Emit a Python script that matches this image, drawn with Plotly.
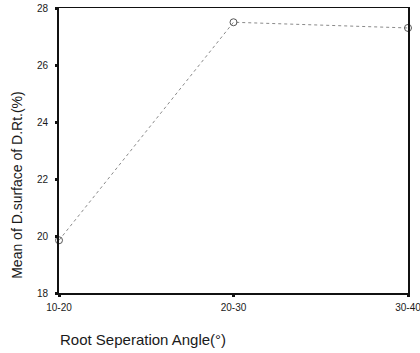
import plotly.graph_objects as go

categories = ["10-20", "20-30", "30-40"]
values = [19.85, 27.5, 27.3]
y_ticks = [18, 20, 22, 24, 26, 28]

fig = go.Figure()
fig.add_trace(go.Scatter(
    x=categories, y=values, mode="lines+markers",
    line=dict(color="#8a8a8a", width=1, dash="dot"),
    marker=dict(symbol="circle-open", size=7, color="#555555", line=dict(width=1)),
    showlegend=False, cliponaxis=False, hoverinfo="skip",
))

fig.update_layout(
    width=420, height=353, autosize=False,
    margin=dict(l=59, r=12, t=8, b=60, pad=0, autoexpand=False),
    paper_bgcolor="white", plot_bgcolor="white",
    font=dict(family="Liberation Sans, Arial, sans-serif", color="#1a1a1a"),
    xaxis=dict(
        type="category", range=[0, 2], showgrid=False, zeroline=False,
        showline=True, linecolor="#111", linewidth=1.5, mirror=True,
        ticks="outside", ticklen=2, tickwidth=3, tickcolor="#111",
        ticklabelstandoff=2,
        tickfont=dict(size=10), fixedrange=True, automargin=False,
    ),
    yaxis=dict(
        range=[18, 28], tickvals=y_ticks, showgrid=False, zeroline=False,
        showline=True, linecolor="#111", linewidth=1.8, mirror=True,
        ticks="outside", ticklen=2, tickwidth=3, tickcolor="#111",
        ticklabelstandoff=5,
        tickfont=dict(size=10), fixedrange=True, automargin=False,
    ),
    annotations=[
        dict(text="Mean of D.surface of D.Rt.(%)", xref="paper", yref="paper",
             x=-0.12, y=0.38, showarrow=False, textangle=-90,
             xanchor="center", yanchor="middle", font=dict(size=14)),
        dict(text="Root Seperation Angle(°)", xref="paper", yref="paper",
             x=0.242, y=-0.163, showarrow=False,
             xanchor="center", yanchor="middle", font=dict(size=15)),
    ],
)

fig.write_html(
    "out.html",
    config={"displayModeBar": False, "staticPlot": True},
    post_script="document.body.style.margin='0';document.body.style.overflow='hidden';",
)
